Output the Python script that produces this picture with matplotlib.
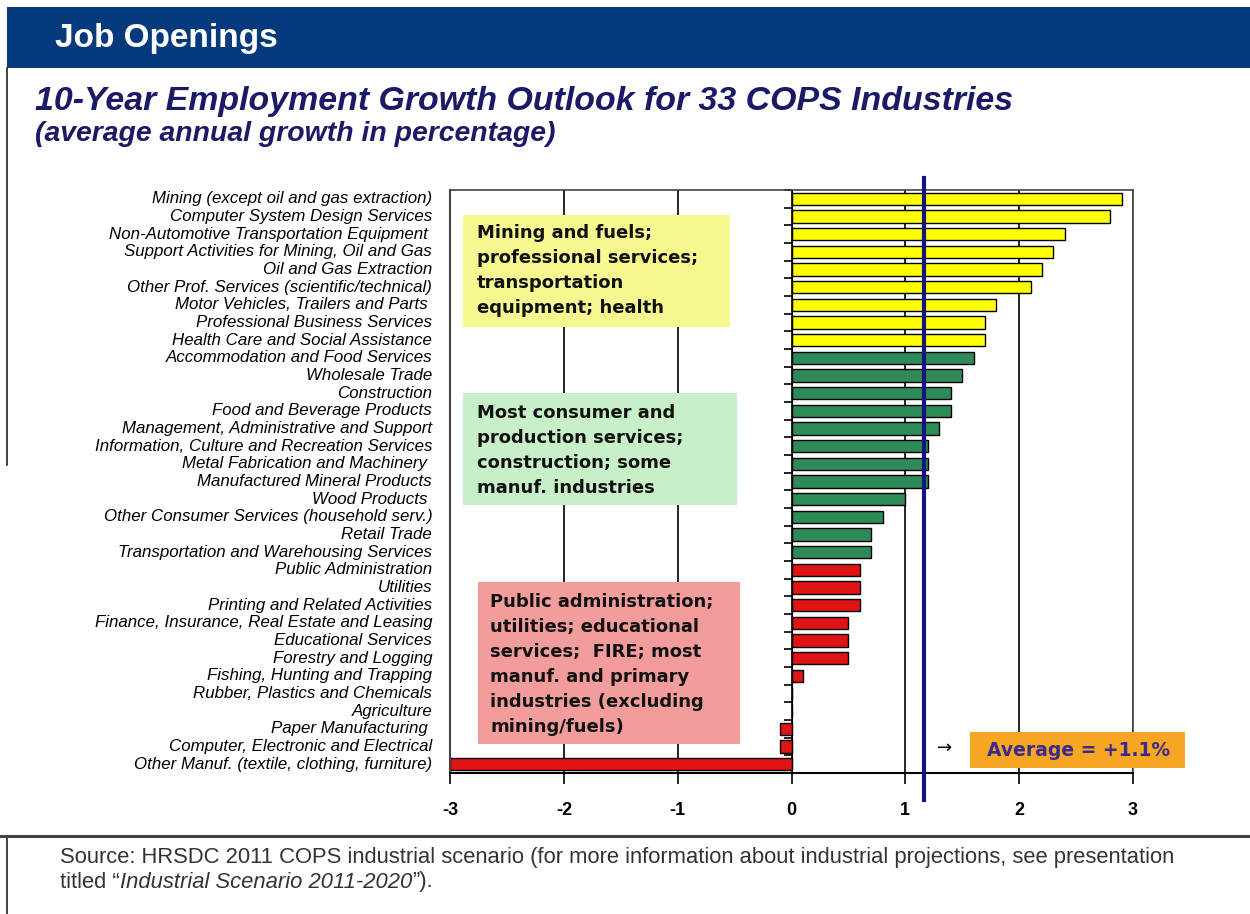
import numpy as np
import matplotlib.pyplot as plt
from matplotlib.patches import Rectangle

industries = [
    "Mining (except oil and gas extraction)",
    "Computer System Design Services",
    "Non-Automotive Transportation Equipment ",
    "Support Activities for Mining, Oil and Gas",
    "Oil and Gas Extraction",
    "Other Prof. Services (scientific/technical)",
    "Motor Vehicles, Trailers and Parts ",
    "Professional Business Services",
    "Health Care and Social Assistance",
    "Accommodation and Food Services",
    "Wholesale Trade",
    "Construction",
    "Food and Beverage Products",
    "Management, Administrative and Support",
    "Information, Culture and Recreation Services",
    "Metal Fabrication and Machinery ",
    "Manufactured Mineral Products",
    "Wood Products ",
    "Other Consumer Services (household serv.)",
    "Retail Trade",
    "Transportation and Warehousing Services",
    "Public Administration",
    "Utilities",
    "Printing and Related Activities",
    "Finance, Insurance, Real Estate and Leasing",
    "Educational Services",
    "Forestry and Logging",
    "Fishing, Hunting and Trapping",
    "Rubber, Plastics and Chemicals",
    "Agriculture",
    "Paper Manufacturing ",
    "Computer, Electronic and Electrical",
    "Other Manuf. (textile, clothing, furniture)",
]
growth = [2.9, 2.8, 2.4, 2.3, 2.2, 2.1, 1.8, 1.7, 1.7,
          1.6, 1.5, 1.4, 1.4, 1.3, 1.2, 1.2, 1.2, 1.0, 0.8, 0.7, 0.7,
          0.6, 0.6, 0.6, 0.5, 0.5, 0.5, 0.1, 0.0, 0.0, -0.1, -0.1, -3.0]
group_sizes = [9, 12, 12]
group_colors = ["#FFFF00", "#2E8B57", "#E01414"]
group_texts = [
    "Mining and fuels;\nprofessional services;\ntransportation\nequipment; health",
    "Most consumer and\nproduction services;\nconstruction; some\nmanuf. industries",
    "Public administration;\nutilities; educational\nservices;  FIRE; most\nmanuf. and primary\nindustries (excluding\nmining/fuels)",
]
average_line = 1.16
average_label = "Average = +1.1%"
xticks = [-3, -2, -1, 0, 1, 2, 3]

W, H = 1250, 914
fig = plt.figure(figsize=(W / 100, H / 100), dpi=100)


def px(x0, y0, x1, y1):
    # pixel box, origin top-left -> figure fraction [left, bottom, w, h]
    return [x0 / W, 1 - y1 / H, (x1 - x0) / W, (y1 - y0) / H]


def box(x0, y0, x1, y1, color):
    l, b, w, h = px(x0, y0, x1, y1)
    fig.add_artist(Rectangle((l, b), w, h, transform=fig.transFigure,
                             facecolor=color, edgecolor="none", zorder=3))


# header band and frame lines
box(7, 7, 1250, 68, "#063A7C")
fig.text(55 / W, 1 - 38 / H, "Job Openings", color="white", fontsize=24,
         fontweight="bold", family="Liberation Sans", va="center")
fig.add_artist(plt.Line2D([7 / W, 7 / W], [1 - 68 / H, 1 - 465 / H], color="#222", lw=1.2))
fig.add_artist(plt.Line2D([7 / W, 7 / W], [0, 1 - 836 / H], color="#222", lw=1.2))
fig.add_artist(plt.Line2D([0, 1], [1 - 836 / H, 1 - 836 / H], color="#444", lw=2.2))

fig.text(35 / W, 1 - 110 / H, "10-Year Employment Growth Outlook for 33 COPS Industries",
         color="#1A1A66", fontsize=24.4, fontweight="bold", fontstyle="italic",
         family="Liberation Sans", va="baseline")
fig.text(35 / W, 1 - 141 / H, "(average annual growth in percentage)",
         color="#1A1A66", fontsize=20.4, fontweight="bold", fontstyle="italic",
         family="Liberation Sans", va="baseline")

ax = fig.add_axes(px(450, 190, 1133, 773))
y = np.arange(len(industries))
bar_colors = np.repeat(group_colors, group_sizes)
ax.barh(y, growth, height=0.68, color=bar_colors, edgecolor="black", linewidth=1, zorder=2)
ax.set_xlim(-3, 3)
ax.set_ylim(len(industries) - 0.5, -0.5)

ax.set_xticks(xticks)
ax.set_xticklabels([str(t) for t in xticks], fontweight="bold", fontsize=13,
                   family="Liberation Sans")
ax.tick_params(axis="x", length=8, width=1.2, pad=13)
ax.grid(axis="x", color="black", linewidth=1.2)
ax.set_axisbelow(True)

# category axis sits on zero, ticks between bars
ax.spines["left"].set_position(("data", 0))
ax.set_yticks(np.arange(-0.5, len(industries)))
ax.set_yticklabels([])
ax.tick_params(axis="y", length=6, width=1.2)
ax.spines["bottom"].set_linewidth(1.5)
for s in ["top", "right"]:
    ax.spines[s].set_color("#444")
    ax.spines[s].set_linewidth(1.2)
ax.axvline(-3, color="#444", lw=1.5, clip_on=False)

for yi, name in zip(y, industries):
    ax.text(-0.026, yi, name, transform=ax.get_yaxis_transform(), ha="right", va="center",
            fontstyle="italic", fontsize=12.2, family="Liberation Sans")

ax.axvline(average_line, ymin=-0.046, ymax=1.02, color="#14147A", lw=3,
           clip_on=False, zorder=4)

# group boxes
box(463, 215, 730, 327, "#F7F78F")
box(463, 393, 737, 505, "#C8F0C8")
box(478, 582, 740, 744, "#F29C9C")
text_pos = [(477, 224), (477, 404), (490, 593)]
for (tx, ty), txt in zip(text_pos, group_texts):
    fig.text(tx / W, 1 - ty / H, txt, fontsize=13, fontweight="bold", color="#111",
             family="DejaVu Sans", va="top", linespacing=1.5, zorder=4)

box(970, 732, 1185, 768, "#F6A623")
fig.text(1079 / W, 1 - 750 / H, average_label, fontsize=13.5, fontweight="bold",
         color="#3A2A8C", family="DejaVu Sans", ha="center", va="center", zorder=4)
fig.text(945 / W, 1 - 748 / H, "\u2192", fontsize=13, color="black", ha="center",
         va="center", family="DejaVu Sans")

# footer
foot = dict(fontsize=15.8, color="#333", family="Liberation Sans", va="center")
fig.text(60 / W, 1 - 858 / H,
         "Source: HRSDC 2011 COPS industrial scenario (for more information about "
         "industrial projections, see presentation", **foot)
r = fig.canvas.get_renderer()
t1 = fig.text(60 / W, 1 - 882 / H, "titled \u201c", **foot)
x = t1.get_window_extent(r).x1
t2 = fig.text(x / W, 1 - 882 / H, "Industrial Scenario 2011-2020", fontstyle="italic", **foot)
x = t2.get_window_extent(r).x1
fig.text(x / W, 1 - 882 / H, "\u201d).", **foot)

fig.savefig("out.png", dpi=100)
